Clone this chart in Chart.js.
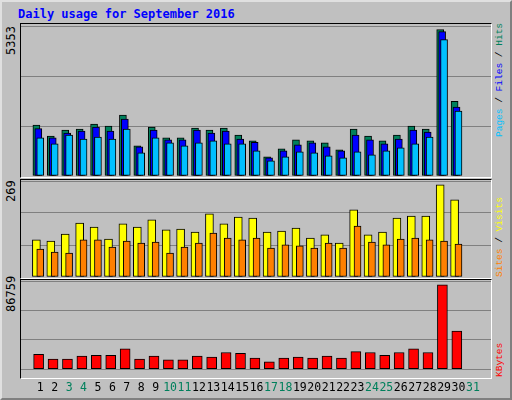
<!DOCTYPE html>
<html><head><meta charset="utf-8">
<script src="https://cdn.jsdelivr.net/npm/chart.js@4/dist/chart.umd.min.js"></script>
<style>
body{margin:0;background:#fff}
#wrap{position:absolute;left:0;top:0;width:508px;height:396px;background:#C0C0C0;border:2px solid #808080;border-top-color:#e0e0e0;border-left-color:#e0e0e0;font-family:"DejaVu Sans Mono",monospace}
.pane{position:absolute;left:18px;width:470px;border-top:1px solid #000;border-left:1px solid #000;border-right:1px solid #fff;border-bottom:1px solid #fff}
canvas{position:absolute}
.t{position:absolute;font-size:12px;white-space:nowrap}
.rot{position:absolute;transform:rotate(-90deg);transform-origin:left top;font-size:12px;white-space:nowrap}
.rr{position:absolute;transform:rotate(-90deg);transform-origin:left top;font-size:9.5px;white-space:nowrap;font-family:"Liberation Mono",monospace}
</style></head><body>
<div id="wrap">
<div class="t" style="left:16px;top:5px;color:#0000FF;font-weight:bold">Daily usage for September 2016</div>
<div class="pane" style="top:21px;height:153px"></div>
<div class="pane" style="top:177px;height:98px"></div>
<div class="pane" style="top:277px;height:98px"></div>
<div class="rot" style="left:2px;top:53px">5353</div>
<div class="rot" style="left:2px;top:200px">269</div>
<div class="rot" style="left:2px;top:310px">86759</div>
<div class="rr" style="left:492px;top:135px"><span style="color:#00C0FF">Pages</span> / <span style="color:#0000FF">Files</span> / <span style="color:#00805C">Hits</span></div>
<div class="rr" style="left:492px;top:275px"><span style="color:#FF8000">Sites</span> / <span style="color:#FFFF00">Visits</span></div>
<div class="rr" style="left:492px;top:375px;color:#FF0000">KBytes</div>
<canvas id="c1" style="left:19px;top:24px" width="470" height="150"></canvas>
<canvas id="c2" style="left:19px;top:179px" width="470" height="96"></canvas>
<canvas id="c3" style="left:19px;top:279px" width="470" height="118"></canvas>
</div>
<script>
const days=[1,2,3,4,5,6,7,8,9,10,11,12,13,14,15,16,17,18,19,20,21,22,23,24,25,26,27,28,29,30];
const dayLabels=['1','2','3','4','5','6','7','8','9','10','11','12','13','14','15','16','17','18','19','20','21','22','23','24','25','26','27','28','29','30','31'];
const weekend=[3,4,10,11,17,18,24,25,31];
const hits=[1819,1429,1641,1677,1854,1783,2173,1074,1748,1358,1358,1712,1641,1712,1464,1252,684,968,1287,1252,1181,932,1677,1429,1252,1464,1783,1677,5222,2669];
const files=[1691,1358,1535,1606,1748,1606,2031,1039,1641,1287,1287,1641,1535,1606,1322,1205,649,897,1110,1181,1039,897,1464,1287,1145,1322,1641,1570,5151,2457];
const pages=[1358,1145,1464,1322,1393,1322,1677,826,1358,1181,1074,1181,1252,1145,1145,897,542,684,861,826,720,649,861,755,897,1003,1145,1393,4867,2315];
const visits=[104,101,120,151,140,106,149,140,160,132,134,126,177,149,168,165,126,129,137,109,118,95,188,118,126,165,171,171,258,216];
const sites=[78,70,67,104,104,84,101,95,98,67,84,95,123,109,104,109,81,90,87,81,95,81,143,98,90,106,109,104,101,92];
const kbytes=[14611,10045,10045,12785,13698,13698,20090,10045,12785,9132,9132,12785,11872,16438,15524,10958,7306,10958,11872,10958,12785,10958,17351,16438,13698,16438,20090,16438,83101,37441];
const maxTop=5353,maxMid=269,maxBot=86759;
const XMIN=0.19,XMAX=31.73,U=1/14.9;
function ds(vals,off,color,w){return{data:vals.map((v,i)=>({x:days[i]+off*U,y:v})),backgroundColor:color,borderColor:'#000',borderWidth:1,barThickness:w,grouped:false,borderSkipped:false};}
function opts(max,showX){return{animation:false,responsive:false,plugins:{legend:{display:false},tooltip:{enabled:false}},layout:{padding:0},
scales:{x:{type:'linear',min:XMIN,max:XMAX,display:showX,grid:{display:false},border:{display:false},
afterBuildTicks:s=>{s.ticks=dayLabels.map((l,i)=>({value:i+1}));},
ticks:{autoSkip:false,maxRotation:0,padding:4,font:{family:'DejaVu Sans Mono',size:11.5},callback:(v)=>dayLabels[v-1],color:c=>weekend.includes(c.tick.value)?'#00805C':'#000'}},
y:{min:0,max:max,display:true,ticks:{display:false,stepSize:max/3},grid:{color:'#808080',lineWidth:1,drawTicks:false},border:{display:false}}}};}
new Chart(document.getElementById('c1'),{type:'bar',data:{datasets:[ds(pages,0,'#00C0FF',7),ds(files,-2,'#0000FF',7),ds(hits,-4,'#00805C',7)]},options:opts(maxTop,false)});
new Chart(document.getElementById('c2'),{type:'bar',data:{datasets:[ds(sites,0,'#FF8000',7),ds(visits,-4,'#FFFF00',8)]},options:opts(maxMid,false)});
new Chart(document.getElementById('c3'),{type:'bar',data:{datasets:[ds(kbytes,-1.7,'#FF0000',10)]},options:opts(maxBot,true)});
</script></body></html>
